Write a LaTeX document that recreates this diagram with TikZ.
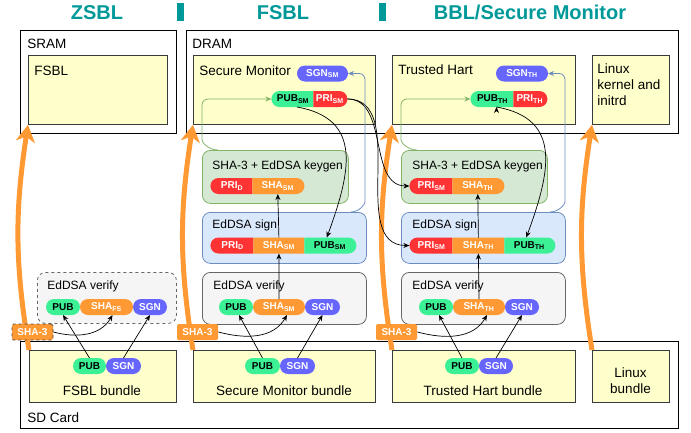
\documentclass[tikz,border=0pt]{standalone}
\usepackage{fontspec}
\setmainfont{Liberation Sans}
\usepackage{tikz}
\usetikzlibrary{arrows,arrows.meta,positioning,shapes.misc}

\definecolor{titlecol}{RGB}{0,153,153}
\definecolor{yell}{RGB}{255,255,204}
\definecolor{boxline}{RGB}{54,57,61}
\definecolor{pubcol}{RGB}{60,240,150}
\definecolor{sgncol}{RGB}{102,102,255}
\definecolor{pricol}{RGB}{255,51,51}
\definecolor{shacol}{RGB}{255,153,51}
\definecolor{kgfill}{RGB}{213,232,212}
\definecolor{kgline}{RGB}{130,179,102}
\definecolor{sgfill}{RGB}{218,232,252}
\definecolor{sgline}{RGB}{108,142,191}
\definecolor{vffill}{RGB}{245,245,245}
\definecolor{vfline}{RGB}{102,102,102}

\newcommand{\pillfnt}{\fontsize{10}{12}\selectfont\bfseries}
\newcommand{\lblfnt}{\fontsize{12}{14}\selectfont}
\newcommand{\boxfnt}{\fontsize{13.5}{16.3}\selectfont}

\begin{document}
\begin{tikzpicture}[x=1pt,y=-1pt,line width=0.8pt,>={Stealth[length=6pt,width=5pt]},
  title/.style={font=\fontsize{20}{22}\selectfont\bfseries,text=titlecol,anchor=base},
  outer box/.style={draw=black,fill=white,anchor=north west,inner sep=0pt},
  yellow box/.style={draw=boxline,fill=yell,anchor=north west,inner sep=0pt},
  box label/.style={font=\boxfnt,anchor=base west,inner sep=0pt},
  panel/.style={rounded corners=8pt,anchor=north west,inner sep=0pt},
  verify panel/.style={panel,draw=vfline,fill=vffill},
  sign panel/.style={panel,draw=sgline,fill=sgfill},
  keygen panel/.style={panel,draw=kgline,fill=kgfill},
  panel label/.style={font=\lblfnt,anchor=base west,inner sep=0pt},
  pill/.style={rounded rectangle,minimum height=16pt,inner xsep=0pt,inner ysep=1pt,
    outer sep=0pt,font=\pillfnt,text=white},
  lend/.style={rounded rectangle east arc=none},
  rend/.style={rounded rectangle west arc=none},
  mid/.style={lend,rend},
  pub/.style={pill,fill=pubcol,text=black},
  sgn/.style={pill,fill=sgncol},
  pri/.style={pill,fill=pricol},
  sha/.style={pill,fill=shacol},
  sha3/.style={rectangle,rounded corners=1.5pt,fill=shacol,text=white,font=\pillfnt,
    minimum width=41pt,minimum height=16pt,inner sep=0pt},
  big arrow/.style={draw=shacol,line width=5pt,-{Stealth[length=17pt,width=19pt,inset=5pt]}},
  link/.style={->,line width=0.7pt,draw=black},
  green link/.style={->,line width=0.8pt,draw=kgline,rounded corners=6pt},
  blue link/.style={->,line width=0.8pt,draw=sgline,rounded corners=6pt}]

  \useasboundingbox (0,0) rectangle (691,432);

  % stages
  \node[title] (tZSBL) at (97,19) {ZSBL};
  \node[title] (tFSBL) at (283,19) {FSBL};
  \node[title] (tBBL) at (530,19) {BBL/Secure Monitor};
  \fill[titlecol] (177,3) rectangle (184,21);
  \fill[titlecol] (379,3) rectangle (386,21);

  % memories
  \node[outer box,minimum width=156pt,minimum height=103pt] (sram) at (20,30) {};
  \node[outer box,minimum width=492pt,minimum height=103pt] (dram) at (186,30) {};
  \node[outer box,minimum width=658pt,minimum height=87pt] (sdcard) at (20,341) {};
  \node[box label] at (27,48) {SRAM};
  \node[box label] at (192,48) {DRAM};
  \node[box label] at (27,422) {SD Card};

  % loaded images
  \node[yellow box,minimum width=139pt,minimum height=69pt] (fsblTop) at (28,55) {};
  \node[yellow box,minimum width=182pt,minimum height=69pt] (smTop) at (193,55) {};
  \node[yellow box,minimum width=183pt,minimum height=69pt] (thTop) at (392,55) {};
  \node[yellow box,minimum width=77pt,minimum height=69pt] (linuxTop) at (592,55) {};
  \node[box label] at (34,75) {FSBL};
  \node[box label] at (199,75) {Secure Monitor};
  \node[box label] at (398,74) {Trusted Hart};
  \node[box label,anchor=north west,align=left] at (597,63) {Linux\\kernel and\\initrd};

  % bundles
  \node[yellow box,minimum width=147pt,minimum height=52pt] (fsblBun) at (29,350) {};
  \node[yellow box,minimum width=182pt,minimum height=52pt] (smBun) at (193,350) {};
  \node[yellow box,minimum width=183pt,minimum height=52pt] (thBun) at (392,350) {};
  \node[yellow box,minimum width=77pt,minimum height=52pt] (linuxBun) at (592,350) {};
  \node[box label,anchor=base] at (102,395) {FSBL bundle};
  \node[box label,anchor=base] at (284,395) {Secure Monitor bundle};
  \node[box label,anchor=base] at (483,395) {Trusted Hart bundle};
  \node[box label,anchor=center,align=center] at (630.5,381) {Linux\\bundle};

  % crypto steps
  \node[verify panel,dashed,minimum width=139pt,minimum height=51pt] (vfFS) at (37,272) {};
  \node[verify panel,minimum width=164pt,minimum height=52pt] (vfSM) at (202,272) {};
  \node[verify panel,minimum width=164pt,minimum height=52pt] (vfTH) at (401,272) {};
  \node[sign panel,minimum width=164pt,minimum height=51pt] (sgSM) at (202,212) {};
  \node[sign panel,minimum width=164pt,minimum height=51pt] (sgTH) at (401,212) {};
  \node[keygen panel,minimum width=146pt,minimum height=53pt] (kgSM) at (202,150) {};
  \node[keygen panel,minimum width=146pt,minimum height=53pt] (kgTH) at (401,150) {};
  \node[panel label] at (47,289) {EdDSA verify};
  \node[panel label] at (213,289) {EdDSA verify};
  \node[panel label] at (412,289) {EdDSA verify};
  \node[panel label] at (212,228) {EdDSA sign};
  \node[panel label] at (412,228) {EdDSA sign};
  \node[panel label] at (212,169) {SHA-3 + EdDSA keygen};
  \node[panel label] at (412,169) {SHA-3 + EdDSA keygen};

  % keys in memory
  \node[sgn,minimum width=51pt] (sgnSM) at (322.5,73.5) {SGN\textsubscript{SM}};
  \node[pub,lend,minimum width=42pt] (pubSM) at (293,99) {PUB\textsubscript{SM}};
  \node[pri,rend,minimum width=34pt,right=0pt of pubSM] (priSM) {PRI\textsubscript{SM}};
  \node[sgn,minimum width=52pt] (sgnTH) at (522,73.5) {SGN\textsubscript{TH}};
  \node[pub,lend,minimum width=43pt] (pubTH) at (492.5,99) {PUB\textsubscript{TH}};
  \node[pri,rend,minimum width=34pt,right=0pt of pubTH] (priTH) {PRI\textsubscript{TH}};

  % keygen inputs
  \node[pri,lend,minimum width=42pt] (kgPriSM) at (232,186) {PRI\textsubscript{D}};
  \node[sha,rend,minimum width=52pt,right=0pt of kgPriSM] (kgShaSM) {SHA\textsubscript{SM}};
  \node[pri,lend,minimum width=43pt] (kgPriTH) at (431.5,186) {PRI\textsubscript{SM}};
  \node[sha,rend,minimum width=52pt,right=0pt of kgPriTH] (kgShaTH) {SHA\textsubscript{TH}};

  % sign inputs
  \node[pri,lend,minimum width=43pt] (sgPriSM) at (232.5,245.5) {PRI\textsubscript{D}};
  \node[sha,mid,minimum width=51pt,right=0pt of sgPriSM] (sgShaSM) {SHA\textsubscript{SM}};
  \node[pub,rend,minimum width=52pt,right=0pt of sgShaSM] (sgPubSM) {PUB\textsubscript{SM}};
  \node[pri,lend,minimum width=43pt] (sgPriTH) at (431.5,245.5) {PRI\textsubscript{SM}};
  \node[sha,mid,minimum width=52pt,right=0pt of sgPriTH] (sgShaTH) {SHA\textsubscript{TH}};
  \node[pub,rend,minimum width=51pt,right=0pt of sgShaTH] (sgPubTH) {PUB\textsubscript{TH}};

  % verify inputs
  \node[pub,minimum width=34pt] (vfPubFS) at (63,307) {PUB};
  \node[sha,minimum width=53pt,right=0pt of vfPubFS] (vfShaFS) {SHA\textsubscript{FS}};
  \node[sgn,minimum width=34pt,right=0pt of vfShaFS] (vfSgnFS) {SGN};
  \node[pub,minimum width=34pt] (vfPubSM) at (236,307) {PUB};
  \node[sha,minimum width=52pt,right=0pt of vfPubSM] (vfShaSM) {SHA\textsubscript{SM}};
  \node[sgn,minimum width=35pt,right=0pt of vfShaSM] (vfSgnSM) {SGN};
  \node[pub,minimum width=34pt] (vfPubTH) at (436,307) {PUB};
  \node[sha,minimum width=52pt,right=0pt of vfPubTH] (vfShaTH) {SHA\textsubscript{TH}};
  \node[sgn,minimum width=34pt,right=0pt of vfShaTH] (vfSgnTH) {SGN};

  % bundle keys
  \node[pub,minimum width=33pt] (bunPubFS) at (89.5,366) {PUB};
  \node[sgn,minimum width=35pt,right=0pt of bunPubFS] (bunSgnFS) {SGN};
  \node[pub,minimum width=35pt] (bunPubSM) at (262.5,366) {PUB};
  \node[sgn,minimum width=35pt,right=0pt of bunPubSM] (bunSgnSM) {SGN};
  \node[pub,minimum width=34pt] (bunPubTH) at (462,366) {PUB};
  \node[sgn,minimum width=34pt,right=0pt of bunPubTH] (bunSgnTH) {SGN};

  % loading
  \draw[big arrow] (fsblBun.north west) to[bend left=9] (fsblTop.south west);
  \draw[big arrow] (smBun.north west) to[bend left=9] (smTop.south west);
  \draw[big arrow] (thBun.north west) to[bend left=9] (thTop.south west);
  \draw[big arrow] (linuxBun.north west) to[bend left=9] (linuxTop.south west);
  \node[sha3,draw=black!70,dashed,line width=0.7pt] (sha3FS) at (32.5,332) {SHA-3};
  \node[sha3] (sha3SM) at (197.5,332) {SHA-3};
  \node[sha3] (sha3TH) at (396.5,332) {SHA-3};

  % key flow
  \path[link]
    (bunPubFS.north) edge (vfPubFS.south)
    (bunSgnFS.north) edge (vfSgnFS.south)
    (sha3FS.east) edge[out=-15,in=-120] ([xshift=6pt]vfShaFS.south)
    (bunPubSM.north) edge ([xshift=3pt]vfPubSM.south)
    (bunSgnSM.north) edge (vfSgnSM.south)
    (sha3SM.east) edge[out=-15,in=-120] ([xshift=8pt]vfShaSM.south)
    (vfShaSM.north) edge (sgShaSM.south)
    (sgShaSM.north) edge (kgShaSM.south)
    ([xshift=4pt]pubSM.south) edge[out=-10,in=70,looseness=1.3] ([xshift=-3pt]sgPubSM.north)
    (priSM.east) edge[out=0,in=180] (kgPriTH.west)
    (priSM.east) edge[out=0,in=180] (sgPriTH.west)
    (bunPubTH.north) edge ([xshift=3pt]vfPubTH.south)
    (bunSgnTH.north) edge (vfSgnTH.south)
    (sha3TH.east) edge[out=-15,in=-120] ([xshift=8pt]vfShaTH.south)
    (vfShaTH.north) edge (sgShaTH.south)
    (sgShaTH.north) edge (kgShaTH.south)
    ([xshift=4pt]pubTH.south) edge[out=-10,in=70,looseness=1.3] ([xshift=-3pt]sgPubTH.north);

  \draw[green link] ([xshift=16pt]kgSM.north west) to[out=180,in=270] (202,134) -- (202,99) -- (pubSM.west);
  \draw[blue link] ([xshift=-16pt]sgSM.north east) to[out=0,in=270] (365,196) -- (365,73.5) -- (sgnSM.east);
  \draw[green link] ([xshift=16pt]kgTH.north west) to[out=180,in=270] (401,134) -- (401,99) -- (pubTH.west);
  \draw[blue link] ([xshift=-16pt]sgTH.north east) to[out=0,in=270] (565,196) -- (565,73.5) -- (sgnTH.east);
\end{tikzpicture}
\end{document}
